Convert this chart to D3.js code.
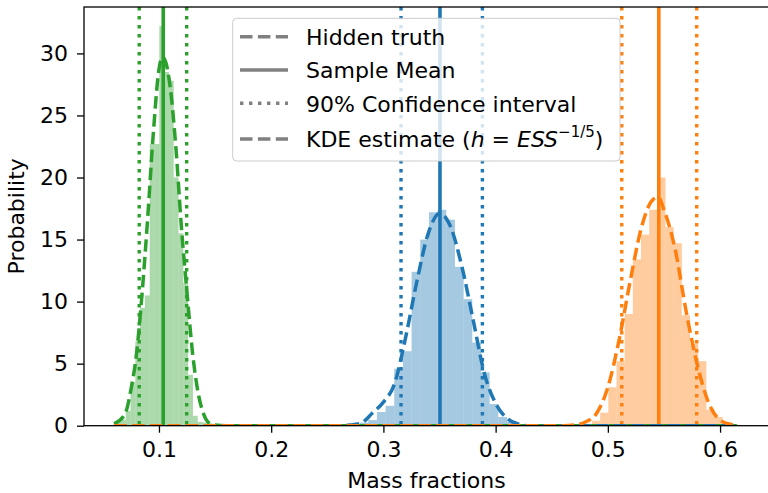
<!DOCTYPE html>
<meta charset="utf-8">
<style>
  body { margin: 0; background: #fff; }
  text { font-family: "DejaVu Sans", sans-serif; fill: #000; }
  .axis text { font-size: 22px; }
  .axis path, .axis line { stroke: #000; stroke-width: 1.3px; }
</style>
<body>
<script src="https://cdn.jsdelivr.net/npm/d3@7"></script>
<script>

// ---- data ----
var seriesColors = ["#2ca02c", "#1f77b4", "#ff7f0e"];

// histograms (density), one array per series
var greenBinStart = 0.0618, greenBinWidth = 0.00428;
var greenDensity = [0.3, 0.5, 1.2, 3.5, 6.8, 9.5, 10.5, 22.7, 22.7, 32.2, 28.5, 27.8,
                    20.0, 15.5, 11.5, 4.1, 0.8, 0.3, 0.25, 0.2, 0.1];

var blueBinStart = 0.2710, blueBinWidth = 0.00773;
var blueDensity = [0.1, 0.25, 0.45, 1.1, 1.6, 4.6, 6.0, 12.4, 15.0, 17.2, 17.4, 16.6,
                   12.8, 10.2, 6.7, 4.3, 1.75, 0.7, 0.3, 0.1];

var orangeBinStart = 0.4713, orangeBinWidth = 0.00728;
var orangeDensity = [0.05, 0.15, 0.4, 1.05, 3.1, 5.2, 9.0, 13.4, 15.4, 17.4, 20.0, 16.0,
                     14.7, 8.9, 6.6, 5.2, 1.3, 0.7, 0.3, 0.1];

// KDE estimates [x, density]
var kdeGreen = [[0.06, 0.15], [0.07, 1.0], [0.075, 2.9], [0.08, 5.8], [0.085, 10.7],
                [0.09, 16.8], [0.095, 23.6], [0.1, 28.7], [0.103, 29.7], [0.106, 29.3],
                [0.11, 27.3], [0.115, 22.5], [0.12, 16.0], [0.125, 10.7], [0.13, 5.8],
                [0.135, 2.6], [0.14, 0.9], [0.145, 0.2], [0.15, 0.05], [0.16, 0], [0.615, 0]];
var kdeBlue = [[0.06, 0], [0.26, 0], [0.27, 0.05], [0.28, 0.2], [0.29, 1.0], [0.30, 1.9],
               [0.31, 3.4], [0.32, 7.2], [0.33, 11.7], [0.34, 15.5], [0.35, 17.1],
               [0.36, 16.0], [0.37, 12.8], [0.38, 8.5], [0.39, 4.2], [0.40, 1.8],
               [0.41, 0.6], [0.42, 0.15], [0.43, 0], [0.615, 0]];
var kdeOrange = [[0.06, 0], [0.46, 0], [0.47, 0.05], [0.48, 0.3], [0.49, 1.0], [0.50, 3.1],
                 [0.51, 6.9], [0.52, 11.7], [0.53, 16.0], [0.54, 18.2], [0.545, 18.4],
                 [0.55, 17.4], [0.56, 14.2], [0.57, 9.1], [0.58, 4.8], [0.59, 1.8],
                 [0.60, 0.45], [0.61, 0.1], [0.615, 0.03]];

var sampleMeans = [0.1038, 0.3504, 0.5454];
var ciLower = [0.0824, 0.3157, 0.5124];
var ciUpper = [0.1247, 0.3882, 0.5792];

var xTicks = [0.1, 0.2, 0.3, 0.4, 0.5, 0.6];
var yTicks = [0, 5, 10, 15, 20, 25, 30];
var legendLabels = ["Hidden truth", "Sample Mean", "90% Confidence interval", "KDE estimate"];

// ---- layout ----
var width = 768, height = 493;
var plot = {left: 84, top: 7, right: 769, bottom: 425.7};

var svg = d3.select("body").append("svg")
    .attr("width", width)
    .attr("height", height);

var x = d3.scaleLinear().domain([0.0332, 0.6436]).range([plot.left, plot.right]);
var y = d3.scaleLinear().domain([0, 33.74]).range([plot.bottom, plot.top]);

svg.append("clipPath").attr("id", "clip")
  .append("rect")
    .attr("x", plot.left).attr("y", plot.top)
    .attr("width", plot.right - plot.left).attr("height", plot.bottom - plot.top);

var g = svg.append("g").attr("clip-path", "url(#clip)");

// histograms
var hists = [
    {start: greenBinStart, w: greenBinWidth, d: greenDensity},
    {start: blueBinStart, w: blueBinWidth, d: blueDensity},
    {start: orangeBinStart, w: orangeBinWidth, d: orangeDensity}
];
hists.forEach(function(h, k) {
    var bins = h.d.map(function(v, i) { return {x0: h.start + i * h.w, x1: h.start + (i + 1) * h.w, v: v}; });
    g.append("g").selectAll("rect")
        .data(bins)
        .enter().append("rect")
        .attr("x", function(d) { return x(d.x0); })
        .attr("width", function(d) { return x(d.x1) - x(d.x0); })
        .attr("y", function(d) { return y(d.v); })
        .attr("height", function(d) { return y(0) - y(d.v); })
        .attr("fill", seriesColors[k])
        .attr("fill-opacity", 0.4);
});

// mean and confidence lines
sampleMeans.forEach(function(m, k) {
    g.append("line")
        .attr("x1", x(m)).attr("x2", x(m))
        .attr("y1", plot.top).attr("y2", plot.bottom)
        .attr("stroke", seriesColors[k])
        .attr("stroke-width", 3.6);
    [ciLower[k], ciUpper[k]].forEach(function(c) {
        g.append("line")
            .attr("x1", x(c)).attr("x2", x(c))
            .attr("y1", plot.top).attr("y2", plot.bottom)
            .attr("stroke", seriesColors[k])
            .attr("stroke-width", 3.4)
            .attr("stroke-dasharray", "3.4,5.6");
    });
});

// KDE curves
var line = d3.line()
    .x(function(d) { return x(d[0]); })
    .y(function(d) { return y(d[1]); })
    .curve(d3.curveMonotoneX);

[kdeGreen, kdeBlue, kdeOrange].forEach(function(kde, k) {
    g.append("path")
        .datum(kde)
        .attr("d", line)
        .attr("fill", "none")
        .attr("stroke", seriesColors[k])
        .attr("stroke-width", 3.5)
        .attr("stroke-dasharray", "12.5,5.4");
});

// axes
svg.append("g")
    .attr("class", "axis")
    .attr("transform", "translate(0," + plot.bottom + ")")
    .call(d3.axisBottom(x).tickValues(xTicks).tickFormat(d3.format(".1f"))
        .tickSize(7).tickPadding(9).tickSizeOuter(0));

svg.append("g")
    .attr("class", "axis")
    .attr("transform", "translate(" + plot.left + ",0)")
    .call(d3.axisLeft(y).tickValues(yTicks).tickSize(7).tickPadding(9).tickSizeOuter(0));

svg.selectAll(".axis .domain").remove();

// spines
svg.append("rect")
    .attr("x", plot.left).attr("y", plot.top)
    .attr("width", plot.right - plot.left).attr("height", plot.bottom - plot.top)
    .attr("fill", "none")
    .attr("stroke", "#000")
    .attr("stroke-width", 1.3);

// axis labels
svg.append("text")
    .attr("x", (plot.left + plot.right) / 2)
    .attr("y", 488)
    .attr("text-anchor", "middle")
    .style("font-size", "22px")
    .text("Mass fractions");

svg.append("text")
    .attr("transform", "rotate(-90)")
    .attr("x", -(plot.top + plot.bottom) / 2)
    .attr("y", 23.5)
    .attr("text-anchor", "middle")
    .style("font-size", "22px")
    .text("Probability");

// legend
var legend = svg.append("g");
legend.append("rect")
    .attr("x", 232.7).attr("y", 18.3)
    .attr("width", 387.3).attr("height", 142.7)
    .attr("rx", 4)
    .attr("fill", "#fff")
    .attr("fill-opacity", 0.8)
    .attr("stroke", "#cccccc")
    .attr("stroke-width", 1);

var legendDash = ["12.5,5.4", null, "3.4,5.6", "12.5,5.4"];
var legendRows = [36.7, 70, 103.3, 139];

legendLabels.forEach(function(lbl, i) {
    var ry = legendRows[i];
    legend.append("line")
        .attr("x1", 240).attr("x2", 288)
        .attr("y1", ry).attr("y2", ry)
        .attr("stroke", "#808080")
        .attr("stroke-width", 3.4)
        .attr("stroke-dasharray", legendDash[i]);
    var t = legend.append("text")
        .attr("x", 306)
        .attr("y", ry + 8.3)
        .style("font-size", "22px")
        .text(lbl);
    if (i == 3) {
        t.append("tspan").text(" (");
        t.append("tspan").style("font-style", "italic").text("h");
        t.append("tspan").text(" = ");
        t.append("tspan").style("font-style", "italic").text("ESS");
        t.append("tspan").attr("dy", -10).style("font-size", "15px").text("\u22121/5");
        t.append("tspan").attr("dy", 10).text(")");
    }
});

</script>
</body>
